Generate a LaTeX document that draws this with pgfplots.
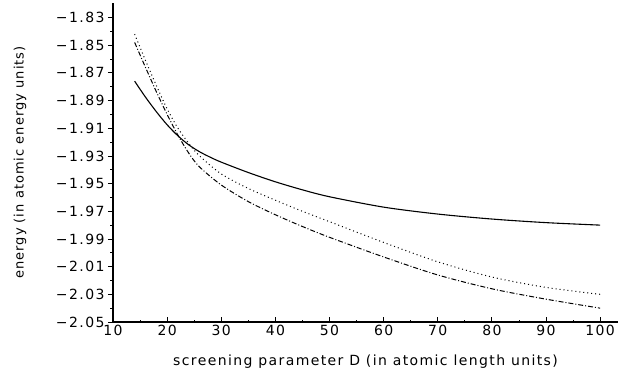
\documentclass[border=0pt]{standalone}
\usepackage{pgfplots}
\pgfplotsset{compat=1.18}
\usepackage{fontspec}
\setmainfont{DejaVu Sans}
\newfontfamily\tickfont{DejaVu Sans}[LetterSpace=10]
\newfontfamily\ylabfont{DejaVu Sans}[LetterSpace=8]
\begin{document}
\begin{tikzpicture}
\begin{axis}[
  scale only axis, width=505bp, height=319bp,
  xmin=10, xmax=103.3, ymin=-2.05, ymax=-1.8195,
  axis x line=bottom, axis y line=left,
  axis line style={-, line width=1.1pt},
  xtick={10,20,30,40,50,60,70,80,90,100},
  xticklabels={10,20,30,40,50,60,70,80,90,100},
  minor x tick num=1,
  ytick={-2.05,-2.03,-2.01,-1.99,-1.97,-1.95,-1.93,-1.91,-1.89,-1.87,-1.85,-1.83},
  yticklabels={−2.05,−2.03,−2.01,−1.99,−1.97,−1.95,−1.93,−1.91,−1.89,−1.87,−1.85,−1.83},
  minor y tick num=1,
  xtick align=inside, ytick align=outside,
  major tick length=5bp, minor tick length=2.5bp,
  tick style={black, line width=0.8pt},
  tick label style={font=\tickfont\fontsize{14bp}{16bp}\selectfont},
  xlabel={screening parameter D (in atomic length units)},
  ylabel={energy (in atomic energy units)},
  xlabel style={font=\tickfont\fontsize{14bp}{16bp}\selectfont, at={(axis description cs:0.5,-0.125)}, anchor=center},
  ylabel style={font=\ylabfont\fontsize{13bp}{15bp}\selectfont, at={(axis description cs:-0.184,0.5)}, anchor=center},
  clip=false,
]
\addplot[black, line width=1.1pt, smooth] coordinates {
(14,-1.876) (16,-1.8875) (18,-1.898) (20,-1.9075) (22,-1.9155) (24,-1.922) (26,-1.927) (28,-1.931) (30,-1.9345) (35,-1.942) (40,-1.9487) (45,-1.9545) (50,-1.9595) (60,-1.967) (70,-1.972) (80,-1.9756) (90,-1.9782) (100,-1.980)};
\addplot[black, line width=1.0pt, dash pattern=on 1pt off 3pt, smooth] coordinates {
(14,-1.842) (16,-1.861) (18,-1.879) (20,-1.896) (22,-1.910) (24,-1.921) (26,-1.930) (30,-1.943) (35,-1.9535) (40,-1.962) (45,-1.970) (50,-1.9775) (60,-1.9925) (70,-2.0065) (80,-2.0175) (90,-2.025) (100,-2.030)};
\addplot[black, line width=1.0pt, dash pattern=on 5pt off 2pt on 1pt off 2pt, smooth] coordinates {
(14,-1.848) (16,-1.866) (18,-1.8835) (20,-1.900) (22,-1.915) (24,-1.928) (26,-1.938) (30,-1.951) (35,-1.963) (40,-1.9725) (45,-1.981) (50,-1.9888) (60,-2.003) (70,-2.016) (80,-2.026) (90,-2.0335) (100,-2.040)};
\path (rel axis cs:0,0) ++(-113bp,-57bp) rectangle ++(620bp,379bp);
\end{axis}
\end{tikzpicture}
\end{document}
